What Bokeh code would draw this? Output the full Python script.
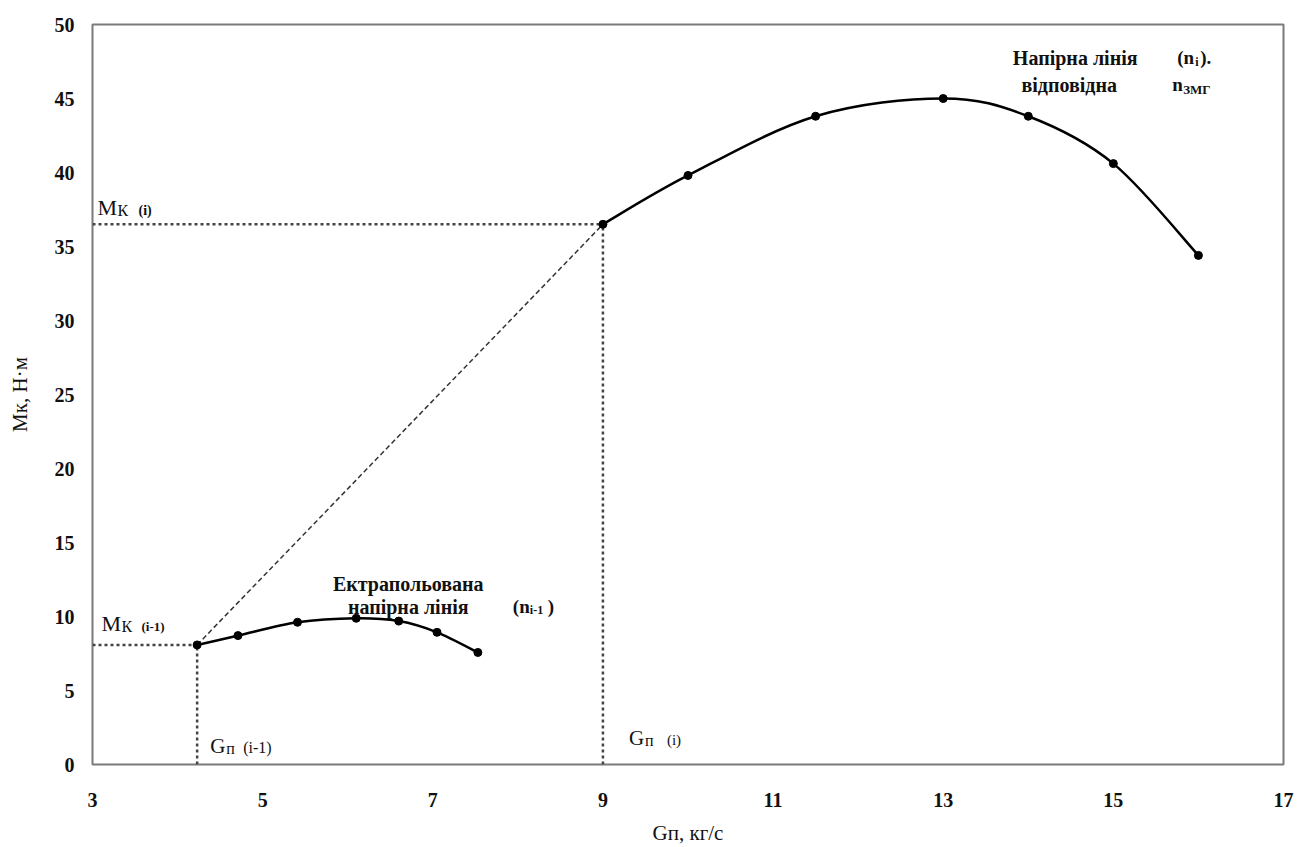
import math
from bokeh.plotting import figure
from bokeh.models import Range1d, FixedTicker, Label
from bokeh.embed import file_html
from bokeh.resources import INLINE

# ---- data ----
x_ticks = [3, 5, 7, 9, 11, 13, 15, 17]
y_ticks = [0, 5, 10, 15, 20, 25, 30, 35, 40, 45, 50]

# extrapolated head line (n_{i-1})
g_prev = [4.23, 4.71, 5.41, 6.10, 6.60, 7.05, 7.53]
m_prev = [8.08, 8.71, 9.61, 9.88, 9.69, 8.93, 7.57]

# head line (n_i), n_ZMG
g_cur = [9.0, 10.0, 11.5, 13.0, 14.0, 15.0, 16.0]
m_cur = [36.5, 39.8, 43.8, 45.0, 43.8, 40.6, 34.4]

x_title = "Gп, кг/с"
y_title = "Mк, Н·м"

SERIF = "Liberation Serif"
INK = "#111111"

p = figure(width=1300, height=847,
           x_range=Range1d(x_ticks[0], x_ticks[-1]),
           y_range=Range1d(y_ticks[0], y_ticks[-1]),
           output_backend="svg", toolbar_location=None,
           min_border_left=92, min_border_right=17,
           min_border_top=24, min_border_bottom=80)
p.background_fill_color = "white"
p.border_fill_color = "white"
p.xgrid.visible = False
p.ygrid.visible = False
p.outline_line_color = "#7a7a7a"
p.outline_line_width = 2

for ax in (p.xaxis[0], p.yaxis[0]):
    ax.axis_line_color = None
    ax.major_tick_line_color = None
    ax.minor_tick_line_color = None
    ax.major_label_text_font = SERIF
    ax.major_label_text_font_style = "bold"
    ax.major_label_text_font_size = "20px"
    ax.major_label_text_color = INK
    ax.axis_label_text_font = SERIF
    ax.axis_label_text_font_style = "normal"
    ax.axis_label_text_font_size = "21px"
    ax.axis_label_text_color = INK
p.xaxis.ticker = FixedTicker(ticks=x_ticks)
p.yaxis.ticker = FixedTicker(ticks=y_ticks)
p.xaxis.major_label_standoff = 22
p.yaxis.major_label_standoff = 12
p.xaxis.axis_label = x_title
p.yaxis.axis_label = y_title
p.xaxis.axis_label_standoff = 11
p.yaxis.axis_label_standoff = 20

x0 = x_ticks[0]
y0 = y_ticks[0]
px, py = g_prev[0], m_prev[0]
cx, cy = g_cur[0], m_cur[0]

# dotted guide lines
p.segment(x0=[x0, x0], y0=[py, cy], x1=[px, cx], y1=[py, cy],
          line_color="#444444", line_width=2.5, line_dash="3 3")
p.segment(x0=[px, cx], y0=[y0, y0], x1=[px, cx], y1=[py, cy],
          line_color="#444444", line_width=2.5, line_dash="3 3")
# dashed diagonal
p.line([px, cx], [py, cy], line_color="#333333", line_width=1.5, line_dash="5 3")


def smooth_line(xs, ys):
    """Draw a smoothed (Catmull-Rom style) curve through the data points."""
    n = len(xs)
    x0s, y0s, x1s, y1s, c0x, c0y, c1x, c1y = [], [], [], [], [], [], [], []
    for i in range(n - 1):
        a = max(i - 1, 0)
        b = min(i + 2, n - 1)
        x0s.append(xs[i]); y0s.append(ys[i])
        x1s.append(xs[i + 1]); y1s.append(ys[i + 1])
        c0x.append(xs[i] + (xs[i + 1] - xs[a]) / 6.0)
        c0y.append(ys[i] + (ys[i + 1] - ys[a]) / 6.0)
        c1x.append(xs[i + 1] - (xs[b] - xs[i]) / 6.0)
        c1y.append(ys[i + 1] - (ys[b] - ys[i]) / 6.0)
    p.bezier(x0=x0s, y0=y0s, x1=x1s, y1=y1s, cx0=c0x, cy0=c0y, cx1=c1x, cy1=c1y,
             line_color="black", line_width=2.5)


# curves
for gx, my in ((g_prev, m_prev), (g_cur, m_cur)):
    smooth_line(gx, my)
    p.scatter(gx, my, size=8, color="black")


def rich(x, y, parts, angle=0.0, baseline="alphabetic"):
    """parts: (text, size_px, x_off, y_off, bold)"""
    for text, size, xo, yo, bold in parts:
        p.add_layout(Label(x=x, y=y, text=text, x_offset=xo, y_offset=yo,
                           text_font=SERIF, text_font_size=f"{size}px",
                           text_font_style="bold" if bold else "normal",
                           text_color=INK, text_align="left",
                           text_baseline=baseline, angle=angle))


# M_K (i) and M_K (i-1)
rich(x0, cy, [("M", 22, 5, 17, False), ("К", 16, 25, 14, False), ("(і)", 14, 46, 14, True)])
rich(x0, py, [("M", 22, 9, 21, False), ("К", 16, 29, 18, False), ("(і-1)", 13, 49, 18, True)])

# G_П (i-1) and G_П (i)
rich(px, y0, [("G", 21, 13, 19, False), ("п", 16, 29, 16, False), ("(і-1)", 16, 46, 17, False)])
rich(cx, y0, [("G", 21, 26, 27, False), ("п", 16, 42, 24, False), ("(і)", 15, 64, 25, False)])

# extrapolated curve label (anchored at its peak)
k = m_prev.index(max(m_prev))
for text, yo in (("Ектрапольована", 34), ("напірна лінія", 11)):
    p.add_layout(Label(x=g_prev[k], y=m_prev[k], text=text, x_offset=52, y_offset=yo,
                       text_font=SERIF, text_font_size="20px", text_font_style="bold",
                       text_color=INK, text_align="center", text_baseline="alphabetic"))
rich(g_prev[-1], m_prev[-1], [("(n", 19, 35, 46, True), ("і-1", 12, 52, 42, True), (")", 19, 70, 46, True)])

# upper curve label (anchored at its peak)
k = m_cur.index(max(m_cur))
for text, yo, xo in (("Напірна лінія", 41, 132), ("відповідна", 14, 126)):
    p.add_layout(Label(x=g_cur[k], y=m_cur[k], text=text, x_offset=xo, y_offset=yo,
                       text_font=SERIF, text_font_size="20px", text_font_style="bold",
                       text_color=INK, text_align="center", text_baseline="alphabetic"))
rich(g_cur[k], m_cur[k], [("(n", 19, 234, 41, True), ("і", 12, 252, 37, True), (").", 19, 257, 41, True),
                          ("n", 19, 229, 14, True), ("ЗМГ", 13, 240, 9, True)])

open("out.html", "w").write(file_html(p, INLINE))
